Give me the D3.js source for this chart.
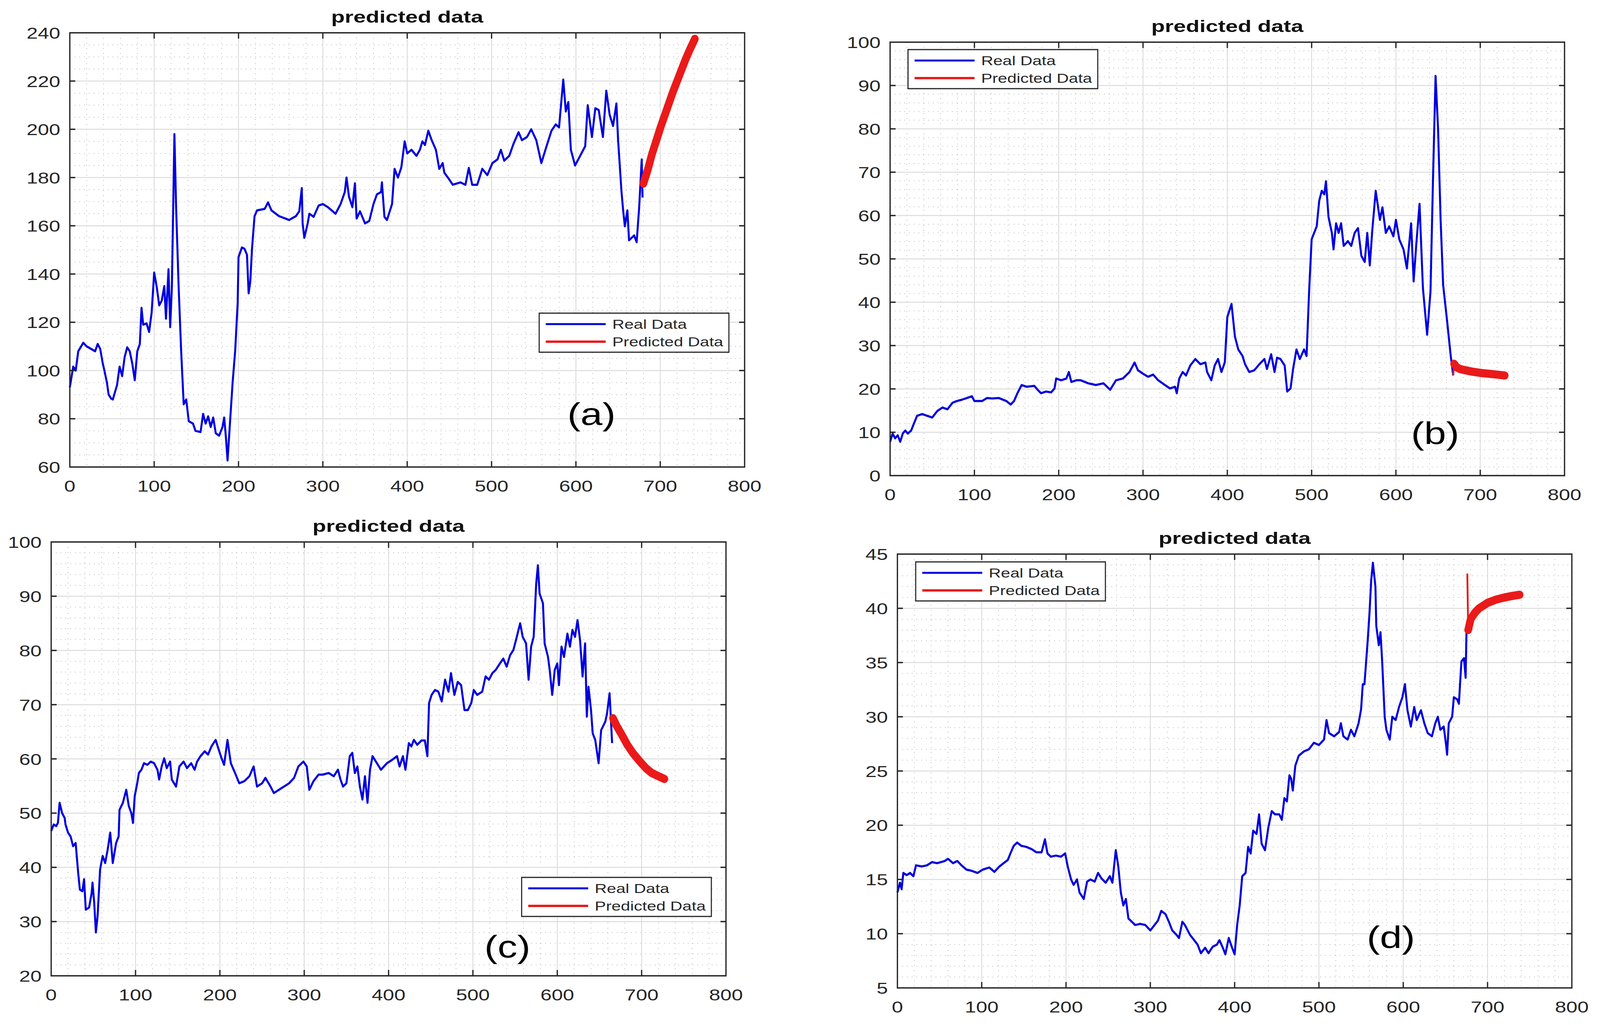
<!DOCTYPE html>
<html lang="en">
<head>
<meta charset="UTF-8">
<title>predicted data</title>
<script src="https://d3js.org/d3.v7.min.js"></script>
<style>
    html, body { margin: 0; padding: 0; background: #fff; overflow: hidden; }
    svg { display: block; width: 100vw; height: 100vh; }
    text { font-family: "Liberation Sans", Arial, Helvetica, sans-serif; fill: #262626; }
    .title { font-weight: bold; fill: #111; }
    .panel-label { fill: #000; }
</style>
</head>
<body>
<script>
// ---- data ----
const xTicks = [0, 100, 200, 300, 400, 500, 600, 700, 800]
const yTicksA = [60, 80, 100, 120, 140, 160, 180, 200, 220, 240]
const yTicksB = [0, 10, 20, 30, 40, 50, 60, 70, 80, 90, 100]
const yTicksC = [20, 30, 40, 50, 60, 70, 80, 90, 100]
const yTicksD = [5, 10, 15, 20, 25, 30, 35, 40, 45]
const seriesNames = ["Real Data", "Predicted Data"]
const panelNames = ["(a)", "(b)", "(c)", "(d)"]

const realA = [[0,93],[4,101.6],[7,100],[10,108],[16,111.5],[20,110],[25,109],[30,108],[33,111],[36,109],[39,103],[41,100],[44,95],[46,90],[49,88.4],[51,88],[56,94],[59,101.6],[62,97.7],[65,105.6],[68,109.6],[71,108],[74,103],[77,96],[80,108],[83,111],[85,126],[87,119],[91,119.5],[94,116],[97,124],[100,140.6],[103,134.7],[106,127],[109,129],[112,135],[114,121.5],[117,142],[119,118],[121,134.7],[124,198],[126,167.7],[129,134.7],[132,108],[135,86],[138,88],[141,79],[146,78],[149,75],[155,74.5],[158,82],[161,78],[164,81],[167,76.6],[170,80.5],[173,74],[177,73],[181,76.6],[183,80.5],[185,72.5],[187,62.7],[190,79],[193,95],[196,108],[199,128],[200,147],[204,151],[207,150.5],[210,148],[212,132],[214,137],[216,150.5],[219,164],[222,166.4],[231,167],[235,169.7],[239,166.4],[248,164],[260,162.4],[268,164],[272,166],[275,175.6],[276,161],[278,155],[282,161],[284,165],[289,163.7],[295,168.4],[300,169],[306,167.7],[315,165],[321,169],[326,174],[328,180],[331,172],[335,167.7],[338,177.6],[340,163],[344,166],[350,161],[355,162],[360,169],[364,173],[369,174],[370,178],[373,163.7],[376,162.4],[382,169],[385,183.6],[389,180],[393,184.2],[397,195],[400,190],[405,191.5],[411,189],[415,191.5],[418,195],[421,193.5],[425,199.4],[429,195.5],[434,191.5],[438,183.6],[442,186],[444,182],[449,179.6],[454,177],[463,178],[469,177],[473,184],[477,177],[483,177],[489,183.6],[495,181],[501,186],[507,187.5],[511,191.5],[515,187],[521,189],[526,194],[532,198.8],[536,195.5],[542,196.8],[547,200],[553,195.5],[559,186],[565,192.8],[571,199.4],[576,202],[580,200.8],[585,220.6],[588,207.4],[591,211.3],[594,191.5],[599,185],[605,189],[611,193],[614,210],[619,196.8],[623,208.7],[627,208],[632,196.8],[636,216],[640,206],[644,201.4],[648,210.7],[650,195.5],[654,174.3],[656,166.4],[658,159.8],[661,166.4],[663,154],[669,156],[672,153.2],[675,167.7],[678,187.5],[679,171.7]]
const predA = [[679,176],[680,177.5],[685,183],[690,189.5],[695,195],[700,200.5],[705,205.5],[710,210.5],[715,215.5],[720,220],[725,224.5],[730,229],[735,233],[741,237.5]]

const realB = [[0,7.8],[3,9.7],[6,8.6],[9,9.3],[12,7.8],[15,9.7],[18,10.4],[21,9.7],[25,10.4],[28,11.9],[32,13.8],[38,14.2],[44,13.8],[50,13.4],[56,14.9],[62,15.7],[68,15.3],[74,16.8],[79,17.2],[85,17.5],[91,17.9],[97,18.3],[100,17.2],[109,17.2],[115,17.9],[121,17.8],[129,17.9],[138,17.2],[143,16.4],[147,17.2],[151,19],[156,20.9],[162,20.5],[171,20.7],[175,19.8],[179,19],[185,19.4],[191,19.2],[195,20.1],[197,22.4],[203,22],[209,22.4],[212,23.9],[215,21.6],[221,22],[226,22],[235,21.3],[244,20.9],[253,21.3],[261,19.8],[268,22],[276,22.4],[284,23.9],[290,26.1],[294,24.3],[300,23.5],[306,22.8],[312,23.3],[318,22],[326,20.9],[332,20.1],[338,20.5],[340,19],[343,22.4],[347,23.9],[351,23.1],[356,25.4],[362,26.9],[368,25.7],[374,26.1],[376,23.9],[381,22],[385,25.4],[389,26.9],[393,23.9],[397,26.1],[400,36.6],[405,39.6],[409,32.1],[413,29.1],[418,27.6],[421,25.7],[426,23.9],[432,24.3],[438,25.7],[444,26.9],[447,24.6],[452,28],[456,23.9],[459,27.2],[463,26.9],[468,25.4],[471,19.4],[475,20.1],[478,24.6],[482,29.1],[486,26.9],[491,29.1],[494,27.6],[497,42.5],[500,54.5],[503,56],[506,57.5],[509,63.4],[512,65.7],[515,64.9],[517,67.9],[520,59.7],[524,56],[526,52.2],[529,58.2],[532,56],[535,58.2],[538,53],[543,54.1],[547,53],[551,56],[555,57.1],[559,50.7],[563,49.3],[566,56],[569,48.5],[572,56.7],[576,65.7],[581,59],[584,61.9],[588,56],[592,57.5],[597,55.2],[600,59],[604,54.5],[609,52.2],[613,47.8],[618,58.2],[621,44.8],[624,53],[628,62.7],[632,43.3],[637,32.5],[641,42.5],[644,68.7],[647,92.2],[650,79.9],[653,59],[656,44],[661,35.1],[665,27.6],[668,23.1]]
const predB = [[668,23.2],[669,25.8],[672,25],[676,24.6],[680,24.4],[690,24],[700,23.7],[710,23.5],[720,23.3],[729,23.1]]

const realC = [[0,46.7],[3,47.9],[6,47.6],[8,48.2],[10,51.9],[13,50],[16,49.1],[17,47.9],[20,46.4],[23,45.7],[26,43.9],[29,44.5],[32,39],[34,35.9],[37,35.6],[39,37.8],[41,32.2],[45,32.6],[48,35.3],[49,37.2],[51,33.5],[53,28],[55,31],[58,39.6],[61,42.1],[64,40.8],[67,43.3],[70,46.4],[73,40.8],[77,44.5],[80,45.7],[81,50.6],[85,51.9],[89,54.3],[92,51.3],[95,50],[97,48.2],[99,53.1],[102,55.5],[104,57.4],[107,58],[110,59.2],[114,58.9],[118,59.5],[122,59.2],[126,58],[128,56.2],[131,58.6],[134,60.1],[137,58.3],[141,59.5],[143,56.2],[148,54.9],[152,58.6],[157,59.5],[161,58.3],[166,59.2],[170,58],[173,59.5],[177,60.5],[182,61.4],[186,60.8],[190,62.3],[195,63.5],[198,62],[202,60.1],[205,58.9],[209,63.5],[213,59.2],[218,57.4],[223,55.5],[229,55.9],[235,56.8],[240,58.6],[244,54.9],[250,55.5],[254,56.5],[259,55.2],[264,53.7],[270,54.3],[276,54.9],[282,55.5],[288,56.5],[293,58.6],[299,59.5],[303,58.6],[306,54.3],[311,55.9],[317,57.1],[322,57.1],[329,57.4],[335,56.8],[340,58],[343,56.2],[346,54.9],[350,55.5],[354,60.5],[357,61.1],[360,57.4],[363,58.6],[366,54.9],[369,52.5],[372,56.8],[375,51.9],[378,58],[381,60.5],[385,59.5],[391,58],[398,59.2],[404,59.8],[410,60.5],[413,58.6],[417,60.5],[420,58],[424,62.9],[427,62.3],[430,63.5],[434,62.6],[439,63.4],[443,63.4],[446,60.5],[448,70.3],[451,71.8],[455,72.7],[459,72.4],[463,70.6],[467,74.6],[471,72.4],[474,75.8],[478,71.8],[482,74.2],[486,73.6],[490,69],[494,69],[498,70.3],[501,72.7],[505,71.8],[511,72.4],[515,75.2],[519,74.6],[523,75.8],[527,76.4],[532,77.6],[536,78.5],[540,77],[544,79.1],[548,80.1],[552,82.5],[556,85],[559,82.5],[563,81.3],[566,74.6],[569,80.7],[572,82.5],[575,92.3],[577,95.7],[579,90.5],[583,88.7],[585,81.3],[589,78.8],[591,76.4],[594,71.8],[597,76.4],[600,77.6],[602,73.6],[605,80.7],[608,78.8],[612,83.1],[615,80.7],[618,83.8],[621,82.5],[624,85.6],[627,81.9],[630,75.2],[633,81.3],[635,67.8],[637,73.3],[640,69],[642,64.7],[645,63.5],[649,59.2],[652,65.3],[657,66.9],[659,68.4],[662,72.1],[665,62.9]]
const predC = [[665,67],[666,67.5],[670,66.2],[677,64.3],[683,62.6],[690,61],[697,59.7],[705,58.3],[712,57.4],[720,56.8],[727,56.3]]

const realD = [[0,13.8],[3,14.7],[5,14.1],[7,15.6],[11,15.4],[15,15.6],[19,15.3],[22,16.3],[29,16.2],[35,16.3],[41,16.6],[47,16.5],[56,16.7],[60,16.9],[66,16.5],[71,16.7],[76,16.3],[82,15.9],[88,15.8],[95,15.6],[101,15.9],[109,16.1],[115,15.7],[121,16.2],[126,16.5],[131,16.8],[134,17.4],[138,18.1],[142,18.4],[147,18.1],[153,18],[159,17.8],[165,17.5],[171,17.5],[175,18.7],[178,17.4],[182,17.1],[188,17.2],[194,17.1],[199,17.4],[202,16.2],[206,15],[209,14.5],[213,15],[216,13.8],[221,13.2],[225,14.8],[229,15],[234,14.8],[238,15.6],[242,15.1],[247,14.7],[252,15.3],[255,14.7],[259,17.7],[262,16.2],[265,13.8],[268,12.6],[271,13.2],[274,11.4],[278,11.1],[282,10.8],[288,10.9],[294,10.8],[300,10.3],[305,10.8],[309,11.2],[313,12.1],[318,11.8],[322,11.1],[326,10.3],[331,9.9],[334,9.6],[338,11.1],[341,10.8],[347,9.9],[352,9.4],[356,9],[360,8.2],[365,8.7],[369,8.2],[374,8.8],[379,9],[382,9.4],[386,8.7],[389,8.1],[393,9.6],[397,8.7],[400,8.1],[403,10.8],[406,12.6],[409,15.3],[413,15.6],[416,18],[419,17.4],[422,19.5],[426,19.2],[429,21],[432,18.3],[436,17.7],[440,19.8],[444,21.3],[448,21],[453,21],[456,20.5],[459,22.5],[462,22.2],[465,24.6],[467,24.3],[469,23.2],[472,25.5],[476,26.4],[482,26.8],[488,27],[494,27.6],[500,27.4],[506,27.9],[509,29.7],[512,28.5],[518,28.2],[524,28.6],[526,29.4],[529,28.2],[534,27.9],[538,28.8],[542,28.2],[547,29.4],[550,30.7],[552,33],[554,33],[558,37.2],[560,39.6],[562,42.6],[564,44.2],[567,42],[568,38.4],[571,36.6],[573,37.8],[575,35.1],[578,30],[580,28.8],[584,27.9],[587,30],[591,29.7],[595,30.9],[599,31.8],[602,33],[605,30.6],[609,29.1],[613,30.9],[616,29.7],[621,30.6],[625,29.4],[629,28.5],[634,28.2],[638,29.4],[641,30],[644,28.8],[648,29.1],[651,27.3],[652,26.5],[654,29.4],[658,30],[660,31.8],[664,31.6],[666,31.2],[669,35.1],[672,35.4],[674,33.6],[675,37.8]]
const predD = [[676,43.2],[677,38],[680,39],[685,39.6],[690,40],[700,40.5],[710,40.8],[720,41],[730,41.15],[738,41.25]]

// ---- layout (pixels, in the 4377 x 2625 drawing space, stretched to the window) ----
const W = 4377, H = 2625
const SX = 1.35        // horizontal stretch of the original figure text
const TICK = 15

const panels = [
    {real: realA, pred: predA, yTicks: yTicksA, yMinor: 5, box: [191, 2037, 84, 1196],
     legend: [1475, 802], label: panelNames[0], labelPos: [1618, 1088]},
    {real: realB, pred: predB, yTicks: yTicksB, yMinor: 2, box: [2435, 4280, 108, 1218],
     legend: [2484, 127], label: panelNames[1], labelPos: [3926, 1137]},
    {real: realC, pred: predC, yTicks: yTicksC, yMinor: 2, box: [140, 1986, 1388, 2499],
     legend: [1427, 2247], label: panelNames[2], labelPos: [1388, 2452]},
    {real: realD, pred: predD, yTicks: yTicksD, yMinor: 1, box: [2455, 4300, 1419, 2530],
     legend: [2505, 1439], label: panelNames[3], labelPos: [3805, 2428]}
]

const BLUE = "#0000dd"
const RED = "#ea1a1a"

const svg = d3.select("body").append("svg")
    .attr("viewBox", `0 0 ${W} ${H}`)
    .attr("preserveAspectRatio", "none")

svg.append("rect").attr("width", W).attr("height", H).attr("fill", "#fff")

function stretchedText(g, x, y, str, size, anchor, cls, sx) {
    return g.append("text")
        .attr("class", cls || null)
        .attr("transform", `translate(${x},${y}) scale(${sx || SX},1)`)
        .attr("text-anchor", anchor)
        .attr("font-size", size)
        .text(str)
}

function drawPanel(p) {
    const [L, R, T, B] = p.box
    const yMin = p.yTicks[0], yMax = p.yTicks[p.yTicks.length - 1]
    const x = d3.scaleLinear().domain([xTicks[0], xTicks[xTicks.length - 1]]).range([L, R])
    const y = d3.scaleLinear().domain([yMin, yMax]).range([B, T])
    const g = svg.append("g")

    // minor grid (dotted)
    const xMinor = d3.range(xTicks[0], xTicks[xTicks.length - 1], 20).filter(v => v % 100 !== 0)
    const yStep = p.yTicks[1] - p.yTicks[0]
    const yMinorVals = d3.range(yMin, yMax, p.yMinor).filter(v => Math.abs((v - yMin) % yStep) > 1e-6)
    g.selectAll(".mx").data(xMinor).enter().append("line")
        .attr("x1", d => x(d)).attr("x2", d => x(d)).attr("y1", T).attr("y2", B)
        .attr("stroke", "#b8b8b8").attr("stroke-width", 2).attr("stroke-dasharray", "2,11")
    g.selectAll(".my").data(yMinorVals).enter().append("line")
        .attr("x1", L).attr("x2", R).attr("y1", d => y(d)).attr("y2", d => y(d))
        .attr("stroke", "#b8b8b8").attr("stroke-width", 2).attr("stroke-dasharray", "2,11")

    // major grid
    g.selectAll(".gx").data(xTicks.slice(1, -1)).enter().append("line")
        .attr("x1", d => x(d)).attr("x2", d => x(d)).attr("y1", T).attr("y2", B)
        .attr("stroke", "#dcdcdc").attr("stroke-width", 2.5)
    g.selectAll(".gy").data(p.yTicks.slice(1, -1)).enter().append("line")
        .attr("x1", L).attr("x2", R).attr("y1", d => y(d)).attr("y2", d => y(d))
        .attr("stroke", "#dcdcdc").attr("stroke-width", 2.5)

    // data
    const line = d3.line().x(d => x(d[0])).y(d => y(d[1]))
    g.append("path").datum(p.real)
        .attr("d", line).attr("fill", "none")
        .attr("stroke", BLUE).attr("stroke-width", 5.5).attr("stroke-linejoin", "round")
    g.append("path").datum(p.pred)
        .attr("d", line).attr("fill", "none")
        .attr("stroke", RED).attr("stroke-width", 5)
    g.append("path").datum(p.pred.slice(1))
        .attr("d", line).attr("fill", "none")
        .attr("stroke", RED).attr("stroke-width", 21)
        .attr("stroke-linecap", "round").attr("stroke-linejoin", "round")

    // axes box + inward ticks on all four sides
    g.append("rect")
        .attr("x", L).attr("y", T).attr("width", R - L).attr("height", B - T)
        .attr("fill", "none").attr("stroke", "#262626").attr("stroke-width", 3.5)
    xTicks.slice(1, -1).forEach(v => {
        g.append("line").attr("x1", x(v)).attr("x2", x(v)).attr("y1", B).attr("y2", B - TICK)
            .attr("stroke", "#262626").attr("stroke-width", 3.5)
        g.append("line").attr("x1", x(v)).attr("x2", x(v)).attr("y1", T).attr("y2", T + TICK)
            .attr("stroke", "#262626").attr("stroke-width", 3.5)
    })
    p.yTicks.slice(1, -1).forEach(v => {
        g.append("line").attr("x1", L).attr("x2", L + TICK).attr("y1", y(v)).attr("y2", y(v))
            .attr("stroke", "#262626").attr("stroke-width", 3.5)
        g.append("line").attr("x1", R).attr("x2", R - TICK).attr("y1", y(v)).attr("y2", y(v))
            .attr("stroke", "#262626").attr("stroke-width", 3.5)
    })

    // tick labels
    xTicks.forEach(v => stretchedText(g, x(v), B + 63, v, 41, "middle"))
    p.yTicks.forEach(v => stretchedText(g, L - 26, y(v) + 15, v, 41, "end"))

    // title
    stretchedText(g, (L + R) / 2, T - 26, "predicted data", 42, "middle", "title", 1.45)

    // legend
    const [lx, ly] = p.legend
    const leg = g.append("g").attr("transform", `translate(${lx},${ly})`)
    leg.append("rect").attr("width", 519).attr("height", 100)
        .attr("fill", "#fff").attr("stroke", "#262626").attr("stroke-width", 3)
    ;[BLUE, RED].forEach((c, i) => {
        const yy = 28 + i * 45
        leg.append("line").attr("x1", 18).attr("x2", 182).attr("y1", yy).attr("y2", yy)
            .attr("stroke", c).attr("stroke-width", i === 0 ? 5 : 6)
        stretchedText(leg, 200, yy + 12, seriesNames[i], 34, "start")
    })

    // panel label
    stretchedText(g, p.labelPos[0], p.labelPos[1], p.label, 80, "middle", "panel-label")
}

panels.forEach(drawPanel)
</script>
</body>
</html>
